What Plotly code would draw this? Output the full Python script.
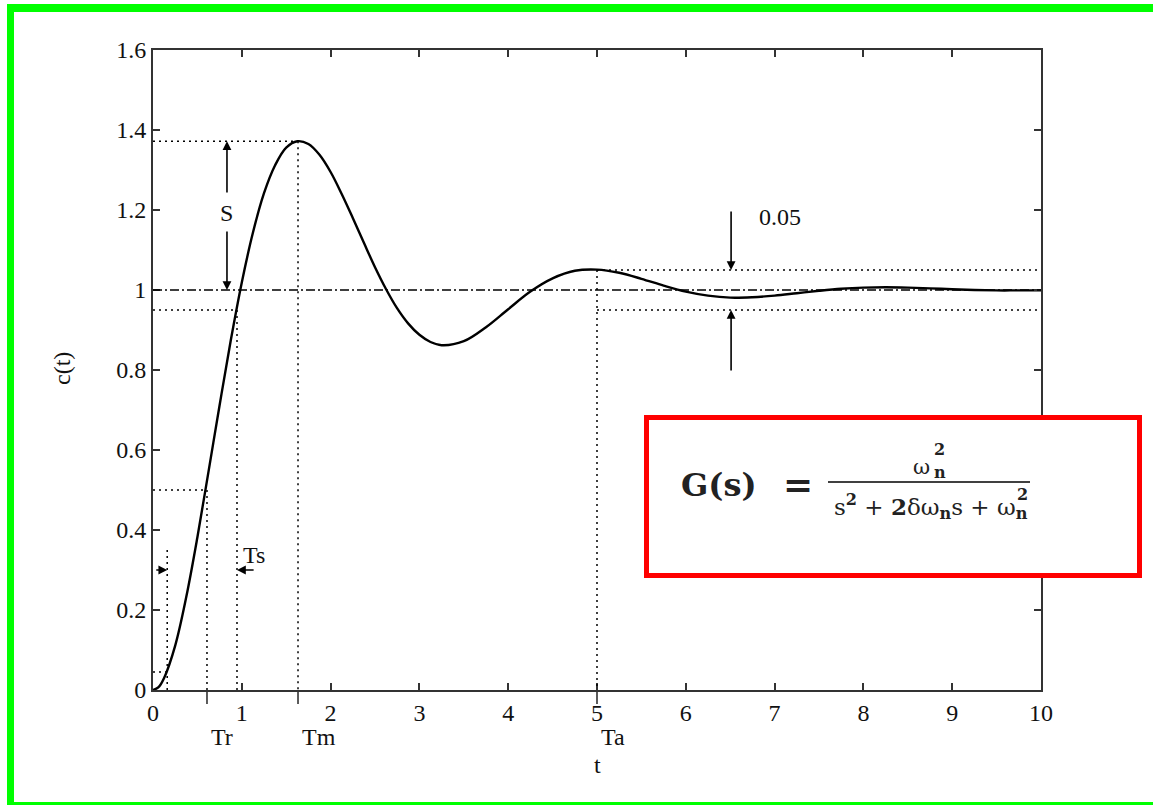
import plotly.graph_objects as go

# ---------------- data ----------------
t_vals = [0, 0.0625, 0.125, 0.25, 0.375, 0.5, 0.625, 0.75, 0.875, 1.0, 1.125, 1.25, 1.375,
          1.5, 1.625, 1.75, 1.875, 2.0, 2.125, 2.25, 2.375, 2.5, 2.625, 2.75, 2.875, 3.0,
          3.125, 3.25, 3.5, 3.75, 4.0, 4.25, 4.5, 4.75, 5.0, 5.25, 5.5, 5.75, 6.0,
          6.25, 6.5, 6.75, 7.0, 7.25, 7.5, 7.75, 8.0, 8.25, 8.5, 8.75, 9.0, 9.25, 9.5,
          9.75, 10]
c_vals = [0, 0.007, 0.03, 0.111, 0.233, 0.382, 0.546, 0.712, 0.873, 1.019, 1.143, 1.242,
          1.312, 1.356, 1.372, 1.365, 1.338, 1.295, 1.240, 1.180, 1.118, 1.057, 1.002,
          0.954, 0.916, 0.888, 0.870, 0.862, 0.872, 0.907, 0.952, 0.996, 1.029, 1.048,
          1.051, 1.043, 1.028, 1.011, 0.996, 0.986, 0.981, 0.982, 0.986, 0.992, 0.998,
          1.003, 1.006, 1.007, 1.006, 1.004, 1.002, 1.000, 0.999, 0.999, 0.999]

x_ticks = [0, 1, 2, 3, 4, 5, 6, 7, 8, 9, 10]
y_ticks = [0, 0.2, 0.4, 0.6, 0.8, 1.0, 1.2, 1.4, 1.6]
y_tick_text = ["0", "0.2", "0.4", "0.6", "0.8", "1", "1.2", "1.4", "1.6"]

t_start = 0.16     # 5% time
t_rise = 0.608     # Tr
t_settle = 0.946   # Ts
t_peak = 1.633     # Tm
t_a = 5.0          # Ta
c_peak = 1.372
c_final = 1.0
band = 0.05
c_half = 0.5
c_start = 0.045
s_arrow_t = 0.833
band_arrow_t = 6.51
ts_arrow_c = 0.3

special_ticks = [t_rise, t_peak, t_a]
special_labels = ["Tr", "Tm", "Ta"]

# ---------------- layout helpers ----------------
W, H = 1153, 805
L, R, T, B = 153, 1041, 50, 690


def px_x(p):
    return (p - L) / (R - L)


def px_y(p):
    return (B - p) / (B - T)


SERIF = "Liberation Serif"
FS = 24
INK = "#111"

fig = go.Figure()

fig.add_trace(go.Scatter(x=t_vals, y=c_vals, mode="lines", line_shape="spline",
                         line=dict(color="black", width=2.4), showlegend=False,
                         hoverinfo="skip"))

DOT = "2px,4px"
shapes = []


def dline(x0, y0, x1, y1, dash=DOT, width=1.5):
    shapes.append(dict(type="line", xref="x", yref="y", x0=x0, y0=y0, x1=x1, y1=y1,
                       line=dict(color="black", width=width, dash=dash), layer="above"))


# reference line at final value
dline(0, c_final, 10, c_final, dash="9px,3px,2px,3px", width=1.6)
# peak
dline(0, c_peak, t_peak, c_peak)
dline(t_peak, c_peak, t_peak, 0)
# 50% / Tr
dline(0, c_half, t_rise, c_half)
dline(t_rise, c_half, t_rise, 0)
# 95% / Ts
dline(0, c_final - band, t_settle, c_final - band)
dline(t_settle, c_final - band, t_settle, 0)
# 5% start
dline(0, c_start, t_start, c_start)
dline(t_start, 0.35, t_start, 0)
# tolerance band
dline(t_a, c_final + band, 10, c_final + band)
dline(t_a, c_final - band, 10, c_final - band)
dline(t_a, c_final + band, t_a, 0)

# ticks below the axis for Tr, Tm, Ta
for tv in special_ticks:
    shapes.append(dict(type="line", xref="x", yref="paper", x0=tv, x1=tv,
                       y0=0, y1=-14 / (B - T), line=dict(color="#333", width=1.6)))

# green page frame
GREEN = "#00ff00"
for (x0, y0, x1, y1) in [(7, 4, 14, 805), (7, 4, 1160, 12), (7, 802, 1160, 806)]:
    shapes.append(dict(type="rect", xref="paper", yref="paper",
                       x0=px_x(x0), x1=px_x(x1), y0=px_y(y1), y1=px_y(y0),
                       fillcolor=GREEN, line=dict(width=0), layer="above"))

# formula box
shapes.append(dict(type="rect", xref="paper", yref="paper",
                   x0=px_x(646.5), x1=px_x(1139.5), y0=px_y(575.5), y1=px_y(417.5),
                   fillcolor="white", line=dict(color="#ff0000", width=5), layer="above"))
# fraction bar
shapes.append(dict(type="line", xref="paper", yref="paper",
                   x0=px_x(828), x1=px_x(1030), y0=px_y(482), y1=px_y(482),
                   line=dict(color="black", width=1.5), layer="above"))

ann = []


def arrow(x, y, ax, ay):
    ann.append(dict(x=x, y=y, ax=ax, ay=ay, xref="x", yref="y", axref="x", ayref="y",
                    text="", showarrow=True, arrowhead=2, arrowsize=1.1, arrowwidth=1.6,
                    arrowcolor="black", standoff=0))


def label(text, x, y, xref="x", yref="y", size=FS, xanchor="center", yanchor="middle",
          angle=0, family=SERIF, color=INK):
    ann.append(dict(text=text, x=x, y=y, xref=xref, yref=yref, showarrow=False,
                    xanchor=xanchor, yanchor=yanchor, textangle=angle,
                    font=dict(family=family, size=size, color=color)))


# S arrows
arrow(s_arrow_t, c_peak, s_arrow_t, 1.24)
arrow(s_arrow_t, c_final, s_arrow_t, 1.15)
label("S", s_arrow_t, 1.1925)
# 0.05 arrows
arrow(band_arrow_t, c_final + band, band_arrow_t, 1.2)
arrow(band_arrow_t, c_final - band, band_arrow_t, 0.795)
label("0.05", 7.06, 1.1825)
# Ts arrows
arrow(t_start, ts_arrow_c, 0.02, ts_arrow_c)
arrow(t_settle, ts_arrow_c, 1.15, ts_arrow_c)
label("Ts", 0.99, 0.3375, xanchor="left")

# Tr / Tm / Ta labels
for tv, tx in zip(special_ticks, special_labels):
    ann.append(dict(text=tx, x=tv, y=px_y(737), xref="x", yref="paper", showarrow=False,
                    xanchor="left", yanchor="middle", xshift=2,
                    font=dict(family=SERIF, size=FS, color=INK)))

# axis titles
label("t", 0.5, px_y(765), xref="paper", yref="paper")
label("c(t)", px_x(62), px_y(369), xref="paper", yref="paper", angle=-90)

# formula
FF = "DejaVu Serif"
FC = "#222"
label("<b>G(s)</b>", px_x(719), px_y(485), xref="paper", yref="paper", size=32, family=FF, color=FC)
label("<b>=</b>", px_x(798), px_y(484), xref="paper", yref="paper", size=36, family=FF, color=FC)
label("ω", px_x(921), px_y(467), xref="paper", yref="paper", size=21, family=FF, color=FC)
label("<b>2</b>", px_x(939), px_y(449), xref="paper", yref="paper", size=16, family=FF, color=FC)
label("<b>n</b>", px_x(940), px_y(472), xref="paper", yref="paper", size=16, family=FF, color=FC)
label("s<sup><b>2</b></sup> + <b>2</b>δω<sub><b>n</b></sub>s + ω<sub><b>n</b></sub>",
      px_x(1030), px_y(506), xref="paper", yref="paper", size=23, family=FF,
      xanchor="right", color=FC)
label("<b>2</b>", px_x(1022), px_y(494), xref="paper", yref="paper", size=16, family=FF, color=FC)

fig.update_layout(
    width=W, height=H, autosize=False,
    margin=dict(l=L, r=W - R, t=T, b=H - B, pad=0),
    paper_bgcolor="white", plot_bgcolor="white",
    shapes=shapes, annotations=ann, showlegend=False,
    xaxis=dict(range=[0, 10], tickvals=x_ticks, ticks="inside", ticklen=7, tickwidth=1.5,
               tickcolor="#333", showline=True, linecolor="#333", linewidth=2,
               mirror="ticks", showgrid=False, zeroline=False,
               tickfont=dict(family=SERIF, size=FS, color=INK)),
    yaxis=dict(range=[0, 1.6], tickvals=y_ticks, ticktext=y_tick_text, ticks="inside",
               ticklen=7, tickwidth=1.5, tickcolor="#333", showline=True, linecolor="#333",
               linewidth=2, mirror="ticks", showgrid=False, zeroline=False,
               tickfont=dict(family=SERIF, size=FS, color=INK)),
)

fig.write_html("out.html")
